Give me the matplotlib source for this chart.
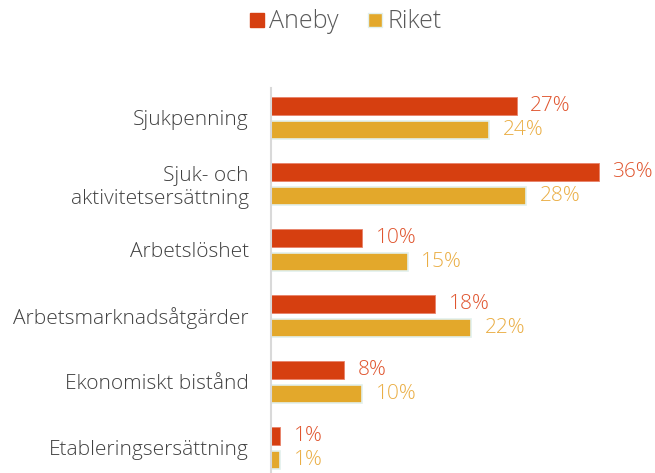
import numpy as np
import matplotlib
matplotlib.use('Agg')
import matplotlib.pyplot as plt
from matplotlib.lines import Line2D

plt.rcParams['font.family'] = ['Open Sans', 'DejaVu Sans']
plt.rcParams['font.weight'] = 'light'

# Andel av befolkningen per ersättningstyp
kategorier = ['Sjukpenning', 'Sjuk- och\naktivitetsersättning', 'Arbetslöshet',
              'Arbetsmarknadsåtgärder', 'Ekonomiskt bistånd', 'Etableringsersättning']
aneby = [27, 36, 10, 18, 8, 1]
riket = [24, 28, 15, 22, 10, 1]

farg_aneby = '#D63F10'
farg_riket = '#E3A82B'

fig = plt.figure(figsize=(6.55, 4.73), dpi=100)
ax = fig.add_axes([271 / 655, 0, 364 / 655, 385 / 473])

y = np.arange(len(kategorier))
h = 0.26
off = 0.182
ax.barh(y - off, aneby, height=h, color=farg_aneby, edgecolor='#E8826A', linewidth=0.6)
ax.barh(y + off, riket, height=h, color=farg_riket, edgecolor='#E2F0EC', linewidth=1.2)

for i in range(len(kategorier)):
    ax.text(aneby[i] + 1.5, y[i] - off, f'{aneby[i]}%', va='center', ha='left',
            fontsize=15, color='#E0552F')
    ax.text(riket[i] + 1.5, y[i] + off, f'{riket[i]}%', va='center', ha='left',
            fontsize=15, color='#EAAE45')

ax.set_xlim(0, 40)
ax.set_ylim(5.379, -0.4545)
ax.set_yticks(y)
ax.set_yticklabels(kategorier, fontsize=15, color='#404040', linespacing=1.15)
ax.tick_params(axis='y', length=0, pad=16)
ax.set_xticks([])
for s in ['top', 'right', 'bottom']:
    ax.spines[s].set_visible(False)
ax.spines['left'].set_color('#D9D9D9')
ax.spines['left'].set_linewidth(1.5)

handles = [Line2D([], [], marker='s', linestyle='', markersize=10, color=farg_aneby),
           Line2D([], [], marker='s', linestyle='', markersize=10, color=farg_riket,
                  markeredgecolor='#E2F0EC')]
fig.legend(handles, ['Aneby', 'Riket'], loc='center', bbox_to_anchor=(0.525, 1 - 22 / 473),
           ncol=2, frameon=False, fontsize=18, labelcolor='#595959',
           handletextpad=0.05, columnspacing=1.0, handlelength=0.9)

fig.savefig('out.png', dpi=100)
